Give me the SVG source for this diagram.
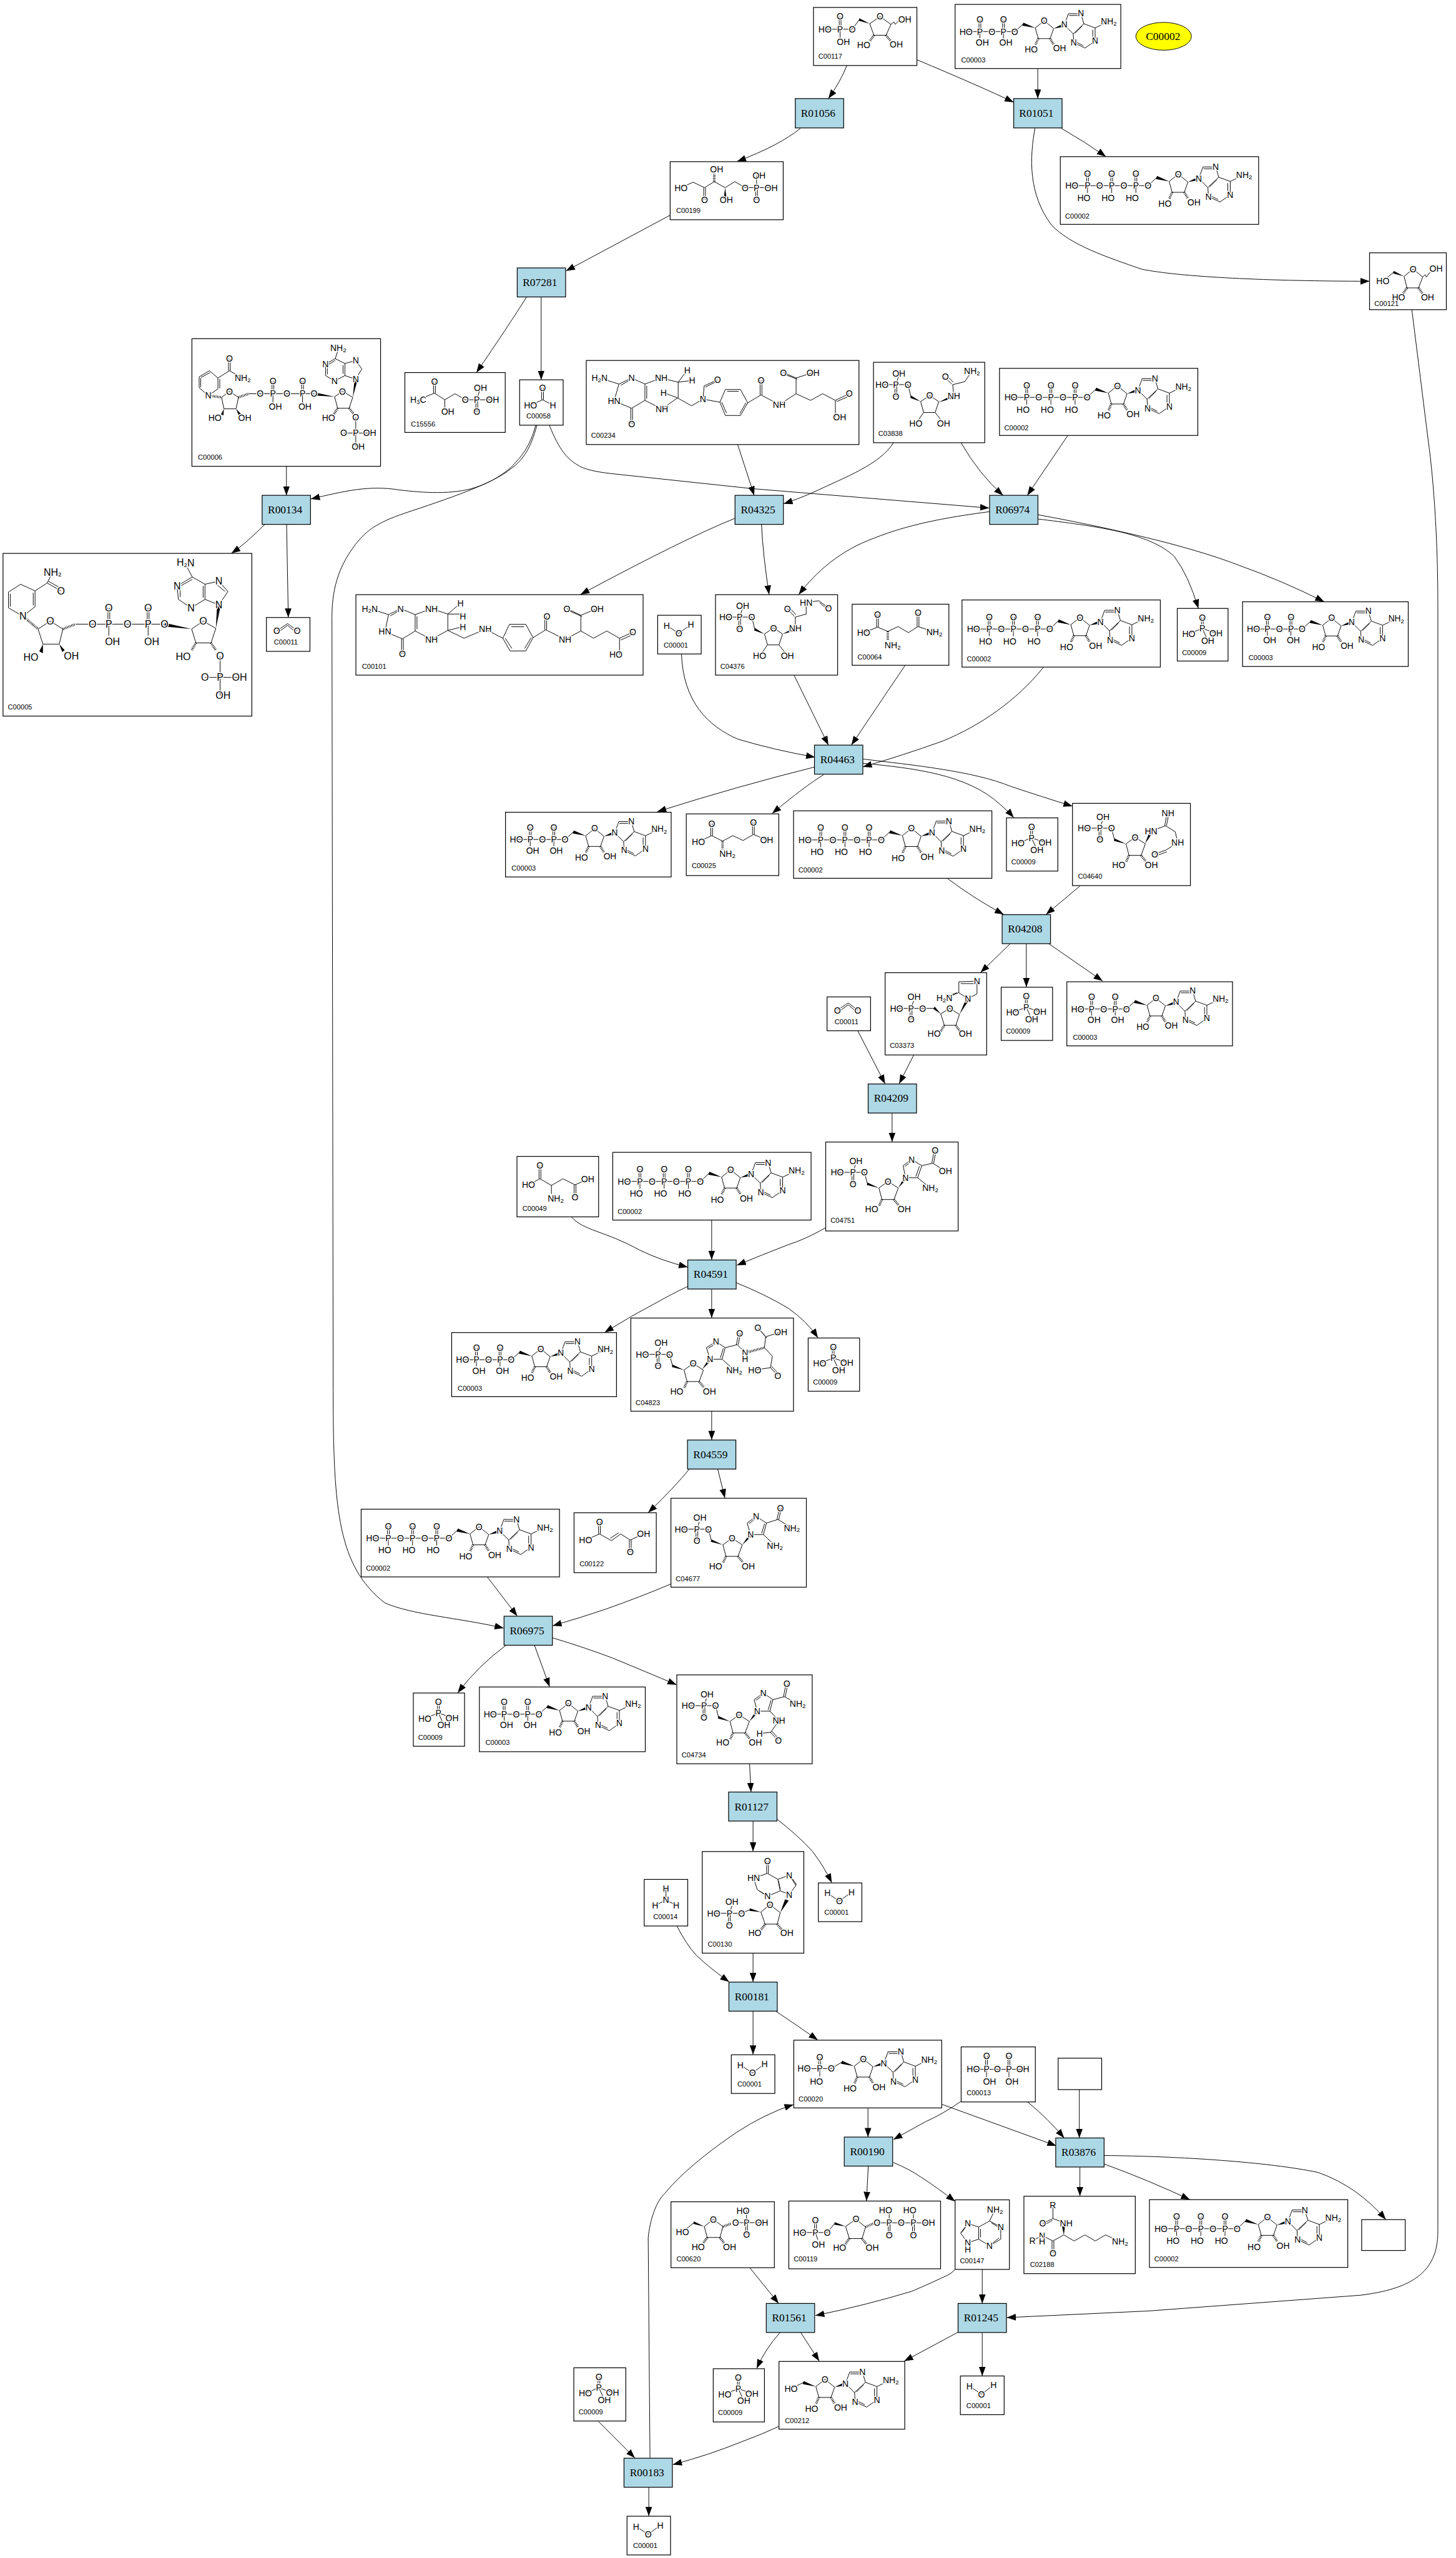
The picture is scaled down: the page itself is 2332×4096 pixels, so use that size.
<svg xmlns="http://www.w3.org/2000/svg" width="2332" height="4096" viewBox="0 0 2332 4096">
<style>
text{font-family:"Liberation Sans",Arial,sans-serif;fill:#000}
.n{fill:#fff;stroke:#000;stroke-width:1.25}
.r{fill:#add8e6;stroke:#000;stroke-width:1.25}
.rt{font-family:"Liberation Serif","Times New Roman",serif;font-size:18px;text-anchor:middle}
.l{font-size:11.5px}
.a{font-size:14.5px;text-anchor:middle;dominant-baseline:central;paint-order:stroke;stroke:#fff;stroke-width:3px;stroke-linejoin:round}
.big .a{font-size:16.5px}
.s{font-size:10px}
.b{fill:none;stroke:#000;stroke-width:1}
.w{fill:#000;stroke:none}
.h{fill:none;stroke:#000;stroke-width:4;stroke-dasharray:1 1.5}
.e{fill:none;stroke:#000;stroke-width:1;marker-end:url(#ah)}
</style>
<defs>
<marker id="ah" markerUnits="userSpaceOnUse" markerWidth="16" markerHeight="12" refX="15" refY="5.5" orient="auto"><path d="M0,0L15,5.5L0,11Z"/></marker>
<g id="ado">
<path class="b" d="M20,7L35,-5L51,8L45,25H25ZM51,8M69,2L76,-17H97M77,-14H95M97,-17L102,0L121,7V29L104,41L85,32L84,17L69,2M102,0L84,17M99,4L87,16M117,10V26M101,37L89,31M121,7L144,-4"/>
<path class="w" d="M20,7L0,-2L-2,3ZM51,8L67,0L69,5Z"/>
<path class="h" d="M25,25L20,36M45,25L51,35"/>
<text class="a" x="35" y="-5">O</text><text class="a" x="13" y="44">HO</text><text class="a" x="61" y="42">OH</text><text class="a" x="69" y="2">N</text><text class="a" x="97" y="-17">N</text><text class="a" x="121" y="29">N</text><text class="a" x="85" y="32">N</text><text class="a" x="144" y="-4">NH<tspan class="s" dy="3">2</tspan></text>
</g>
<g id="m-atp">
<path class="b" d="M19,48H145L160,34M43.5,28V48M46.5,28V48M83.5,28V48M86.5,28V48M123.5,28V48M126.5,28V48M45,48V60M85,48V60M125,48V60"/>
<text class="a" x="19" y="48">HO</text><text class="a" x="45" y="48">P</text><text class="a" x="65" y="48">O</text><text class="a" x="85" y="48">P</text><text class="a" x="105" y="48">O</text><text class="a" x="125" y="48">P</text><text class="a" x="145" y="48">O</text>
<text class="a" x="45" y="28">O</text><text class="a" x="85" y="28">O</text><text class="a" x="125" y="28">O</text><text class="a" x="39" y="68">HO</text><text class="a" x="79" y="68">HO</text><text class="a" x="119" y="68">HO</text>
<use href="#ado" x="160" y="34"/>
</g>
<g id="m-adp">
<path class="b" d="M18,45H98.5L113,32M39.5,25V45M42.5,25V45M78.5,25V45M81.5,25V45M41,45V56M80,45V56"/>
<text class="a" x="18" y="45">HO</text><text class="a" x="41" y="45">P</text><text class="a" x="61" y="45">O</text><text class="a" x="80" y="45">P</text><text class="a" x="98.5" y="45">O</text><text class="a" x="41" y="25">O</text><text class="a" x="80" y="25">O</text><text class="a" x="45" y="63">OH</text><text class="a" x="84" y="63">OH</text>
<use href="#ado" transform="translate(113,32) scale(.98)"/>
</g>
<g id="m-pi">
<path class="b" d="M40,15V33M43,15V33M41.5,33L19,42M41.5,33L64,41M41.5,33L50.5,53"/>
<text class="a" x="41.5" y="15">O</text><text class="a" x="41.5" y="33">P</text><text class="a" x="19" y="42">HO</text><text class="a" x="64" y="41">OH</text><text class="a" x="50.5" y="53">OH</text>
</g>
<g id="m-h2o">
<path class="b" d="M15,17L35,30L55,15"/>
<text class="a" x="15" y="17">H</text><text class="a" x="35" y="30">O</text><text class="a" x="55" y="15">H</text>
</g>
<g id="m-co2">
<path class="b" d="M17,22L35,10L51,22M20,24L35,13L48,24"/>
<text class="a" x="17" y="22">O</text><text class="a" x="51" y="22">O</text>
</g>
<g id="rp2">
<path class="b" d="M-26,0H19L24,19M-1.5,0V19M1.5,0V19M0,0L4,-12M43,26L58,15L75,26L68,45H48Z"/>
<path class="w" d="M43,26L24,17L23,21Z"/>
<path class="h" d="M48,45L43,56M68,45L76,55"/>
<text class="a" x="5" y="-19">OH</text><text class="a" x="-26" y="0">HO</text><text class="a" x="0" y="0">P</text><text class="a" x="0" y="19">O</text><text class="a" x="19" y="0">O</text><text class="a" x="58" y="15">O</text><text class="a" x="31" y="61">HO</text><text class="a" x="85" y="61">OH</text>
</g>
<g id="rp1">
<path class="b" d="M-23,0H20L25,20M-1.5,0V20M1.5,0V20M0,0L4,-12M41,28L56,18L71,28L65,46H46ZM46,46L36,60M65,46L76,60"/>
<path class="w" d="M41,28L25,18L24,22Z"/>
<text class="a" x="5" y="-19">OH</text><text class="a" x="-23" y="0">HO</text><text class="a" x="0" y="0">P</text><text class="a" x="0" y="20">O</text><text class="a" x="20" y="0">O</text><text class="a" x="56" y="18">O</text><text class="a" x="33" y="64">HO</text><text class="a" x="79" y="64">OH</text>
</g>
</defs>
<g transform="scale(.96844)">
<g id="connectors">
<path class="e" d="M1400.5,108.5Q1390,135 1370,163"/>
<path class="e" d="M1516.8,99Q1615,140 1676.5,169"/>
<path class="e" d="M1716.3,114V163"/>
<path class="e" d="M1755,212Q1795,235 1829,259"/>
<path class="e" d="M1711.7,212C1703,260 1700,320 1739,372C1770,405 1830,425 1888,445C1950,458 2100,465 2265,465"/>
<path class="e" d="M1324,212Q1290,240 1219,267"/>
<path class="e" d="M1108,356L936,448"/>
<path class="e" d="M871,491Q840,540 788,616"/>
<path class="e" d="M895,491V628"/>
<path class="e" d="M886,703C876,740 862,755 845,773C825,790 805,800 786,806C750,818 700,815 660,810C610,802 570,812 514,825"/>
<path class="e" d="M888,703C878,740 866,760 845,775C815,800 740,825 668,849C625,864 608,875 588,900C565,930 549,965 549,1020L551,2300C551,2500 560,2590 636,2650C680,2670 760,2675 833,2692"/>
<path class="e" d="M908.5,703C925,745 940,760 954,768C965,776 985,780 1010,783L1244.6,808L1636,840"/>
<path class="e" d="M473.7,771V819"/>
<path class="e" d="M438,867Q405,900 382.6,915"/>
<path class="e" d="M474,867L476.8,1021"/>
<path class="e" d="M1220,735L1247.3,819"/>
<path class="e" d="M1477.7,732C1455,768 1400,788 1343,815Q1320,825 1296,833"/>
<path class="e" d="M1589.3,732Q1620,785 1659,819"/>
<path class="e" d="M1766,720L1699,819"/>
<path class="e" d="M1215.6,857Q1133,890 960,983"/>
<path class="e" d="M1259.4,867Q1262,920 1272,983"/>
<path class="e" d="M1636.6,846C1560,856 1500,868 1445,890C1390,910 1350,945 1321,983"/>
<path class="e" d="M1716,858C1810,870 1900,880 1942,920Q1965,950 1982,1006"/>
<path class="e" d="M1716,851C1820,870 1960,900 2050,935Q2120,960 2190,995"/>
<path class="e" d="M1313,1116L1370,1232"/>
<path class="e" d="M1127,1081C1130,1160 1170,1200 1220,1222Q1280,1240 1348,1252"/>
<path class="e" d="M1497,1100L1408,1232"/>
<path class="e" d="M1726,1103C1680,1160 1620,1200 1560,1225Q1490,1250 1427,1268"/>
<path class="e" d="M1348,1268Q1220,1300 1087,1342"/>
<path class="e" d="M1362,1281Q1331,1300 1277,1345"/>
<path class="e" d="M1427,1262C1510,1270 1600,1280 1654,1330Q1668,1342 1676.6,1352"/>
<path class="e" d="M1427,1255C1510,1265 1610,1275 1671,1300Q1725,1318 1773.7,1333"/>
<path class="e" d="M1567,1452.5Q1610,1485 1660,1512"/>
<path class="e" d="M1786,1465L1730,1512"/>
<path class="e" d="M1671,1560L1621.7,1608"/>
<path class="e" d="M1697.4,1560V1632"/>
<path class="e" d="M1734,1560L1823.6,1622"/>
<path class="e" d="M1418.8,1704.7L1463.8,1792"/>
<path class="e" d="M1511,1744.7L1487,1792"/>
<path class="e" d="M1475.4,1840V1888"/>
<path class="e" d="M945,2012C965,2035 1000,2035 1058,2067Q1095,2085 1137.5,2095"/>
<path class="e" d="M1177,2017.5V2083"/>
<path class="e" d="M1365.6,2030Q1330,2050 1303.6,2058Q1260,2075 1218.7,2092"/>
<path class="e" d="M1137.5,2127Q1110,2140 1089,2152Q1045,2175 1000,2203"/>
<path class="e" d="M1177,2131.5V2179"/>
<path class="e" d="M1217,2120.7Q1265,2140 1303.6,2163Q1335,2185 1352.7,2212"/>
<path class="e" d="M1177,2333.5V2381"/>
<path class="e" d="M1140,2429Q1115,2460 1072,2501"/>
<path class="e" d="M1187,2429L1198.9,2477"/>
<path class="e" d="M806,2607.5L855.5,2672"/>
<path class="e" d="M1109.6,2619Q1060,2640 1003.5,2660Q960,2675 914,2688"/>
<path class="e" d="M836.6,2720.5Q790,2755 757,2799"/>
<path class="e" d="M884,2720.5L909,2789"/>
<path class="e" d="M913.7,2708Q970,2725 1013.7,2741.7Q1070,2765 1119,2785.7"/>
<path class="e" d="M1239.7,2916.5L1242,2963"/>
<path class="e" d="M1245.4,3011V3061"/>
<path class="e" d="M1284,3007Q1320,3035 1343.6,3061Q1362,3085 1375.7,3113"/>
<path class="e" d="M1245.4,3229.5V3277"/>
<path class="e" d="M1119.5,3184.5Q1135,3215 1151.6,3233Q1175,3255 1206,3277"/>
<path class="e" d="M1245.4,3325.5V3397"/>
<path class="e" d="M1283.3,3325.5Q1320,3350 1352.5,3373"/>
<path class="e" d="M1435.5,3485.5V3533.5"/>
<path class="e" d="M1589,3474.6Q1560,3495 1531,3508Q1500,3525 1477.5,3537.6"/>
<path class="e" d="M1699.8,3475.5Q1735,3505 1760,3535"/>
<path class="e" d="M1557.9,3479.4L1747,3548"/>
<path class="e" d="M1785,3455V3535"/>
<path class="e" d="M1786,3583.5V3631"/>
<path class="e" d="M1826,3578Q1900,3605 1968,3637"/>
<path class="e" d="M1826,3564C1950,3565 2100,3575 2180,3592Q2245,3615 2292,3670"/>
<path class="e" d="M1436,3581.5L1433,3639"/>
<path class="e" d="M1477.5,3575.5Q1505,3587 1523.5,3600Q1550,3617 1579.6,3640"/>
<path class="e" d="M1240,3749.5L1287.8,3808.6"/>
<path class="e" d="M1579.6,3752.4Q1572,3760 1566.8,3762Q1540,3775 1508,3788.5Q1430,3812 1348.5,3828.6"/>
<path class="e" d="M1624.5,3752.5V3808.6"/>
<path class="e" d="M2335,512L2362,728C2372,800 2378,900 2378,1000V3690C2378,3760 2330,3785 2250,3795L1900,3821L1665,3832"/>
<path class="e" d="M1290,3856.7Q1265,3885 1251.5,3916"/>
<path class="e" d="M1324.5,3857L1355,3904"/>
<path class="e" d="M1584.7,3856L1495.4,3904"/>
<path class="e" d="M1624.5,3857V3928.5"/>
<path class="e" d="M1288,4012Q1260,4025 1227.5,4037Q1170,4060 1112.8,4075"/>
<path class="e" d="M990,4004L1050,4064"/>
<path class="e" d="M1073,4112.6V4160"/>
<path class="e" d="M1075,4064L1072,3700C1075,3670 1085,3640 1100,3626C1130,3590 1175,3555 1218.6,3525.5Q1265,3495 1312.3,3479.7"/>
</g>

<g id="R01056"><rect class="r" x="1315.3" y="163" width="80" height="48.5"/><text class="rt" x="1353" y="193">R01056</text></g>
<g id="R01051"><rect class="r" x="1676.5" y="163" width="80" height="48.5"/><text class="rt" x="1714" y="193">R01051</text></g>
<g id="R07281"><rect class="r" x="855.4" y="443" width="80" height="48"/><text class="rt" x="893" y="473">R07281</text></g>
<g id="R00134"><rect class="r" x="433.5" y="819" width="80" height="48"/><text class="rt" x="471.5" y="849">R00134</text></g>
<g id="R04325"><rect class="r" x="1215.6" y="819" width="80" height="48"/><text class="rt" x="1253.6" y="849">R04325</text></g>
<g id="R06974"><rect class="r" x="1636.6" y="819" width="80" height="48"/><text class="rt" x="1674.6" y="849">R06974</text></g>
<g id="R04463"><rect class="r" x="1347" y="1232" width="80" height="48"/><text class="rt" x="1385" y="1262">R04463</text></g>
<g id="R04208"><rect class="r" x="1657.4" y="1512.3" width="80" height="48"/><text class="rt" x="1695.4" y="1542">R04208</text></g>
<g id="R04209"><rect class="r" x="1435.8" y="1792.3" width="80" height="48"/><text class="rt" x="1473.8" y="1822">R04209</text></g>
<g id="R04591"><rect class="r" x="1137.5" y="2083.3" width="80" height="48"/><text class="rt" x="1175.5" y="2113">R04591</text></g>
<g id="R04559"><rect class="r" x="1137" y="2381" width="80" height="48"/><text class="rt" x="1175" y="2411">R04559</text></g>
<g id="R06975"><rect class="r" x="833.6" y="2672.3" width="80" height="48"/><text class="rt" x="871.6" y="2702">R06975</text></g>
<g id="R01127"><rect class="r" x="1205" y="2963" width="80" height="48"/><text class="rt" x="1243" y="2993">R01127</text></g>
<g id="R00181"><rect class="r" x="1205.5" y="3277.3" width="80" height="48"/><text class="rt" x="1243.5" y="3307">R00181</text></g>
<g id="R00190"><rect class="r" x="1396.3" y="3533.5" width="80" height="48"/><text class="rt" x="1434.3" y="3563">R00190</text></g>
<g id="R03876"><rect class="r" x="1746" y="3535" width="80" height="48"/><text class="rt" x="1784" y="3565">R03876</text></g>
<g id="R01561"><rect class="r" x="1267.3" y="3808.6" width="80" height="48"/><text class="rt" x="1305.3" y="3838.6">R01561</text></g>
<g id="R01245"><rect class="r" x="1584.5" y="3808.6" width="80" height="48"/><text class="rt" x="1622.5" y="3838.6">R01245</text></g>
<g id="R00183"><rect class="r" x="1032" y="4064.5" width="80" height="48"/><text class="rt" x="1070" y="4094.5">R00183</text></g>

<g id="C00002_title"><ellipse cx="1924.5" cy="60" rx="46" ry="23" fill="#ff0" stroke="#000" stroke-width="1"/><text class="rt" x="1923.5" y="66.5">C00002</text></g>

<g id="C00117" transform="translate(1345.4,12.3)"><rect class="n" width="171" height="96"/>
<path class="b" d="M19,36H64L76,20M42.5,15V36M45.5,15V36M44,36V50M93,27L110,15L128,28L120,46H100ZM128,28L133,24L135,28L141,22"/><path class="w" d="M93,27L76,18L75,22Z"/><path class="h" d="M100,46L93,56M120,46L128,56"/>
<text class="a" x="19" y="36">HO</text><text class="a" x="44" y="36">P</text><text class="a" x="44" y="15">O</text><text class="a" x="49.5" y="57">OH</text><text class="a" x="64" y="36">O</text><text class="a" x="110" y="15">O</text><text class="a" x="151" y="20">OH</text><text class="a" x="83" y="62">HO</text><text class="a" x="137" y="61">OH</text><text class="l" x="8" y="85">C00117</text></g>

<g id="C00003" transform="translate(1579.6,7.3)"><rect class="n" width="274" height="106"/><use href="#m-adp"/><text class="l" x="10" y="96">C00003</text></g>
<g id="C00002" transform="translate(1753.6,259)"><rect class="n" width="328" height="112"/><use href="#m-atp"/><text class="l" x="8" y="102">C00002</text></g>

<g id="C00199" transform="translate(1108.3,267.3)"><rect class="n" width="187" height="96"/>
<path class="b" d="M18,43L38,34L57,43L73,33L91,43L107,33L124,43H167M55.5,43V63M58.5,43V63M143,43V23M141.5,43V63M144.5,43V63"/><path class="w" d="M91,43L88.5,62H93.5Z"/><path class="h" d="M73,33V20"/>
<text class="a" x="18" y="43">HO</text><text class="a" x="57" y="63">O</text><text class="a" x="77" y="13">OH</text><text class="a" x="93" y="63">OH</text><text class="a" x="124" y="43">O</text><text class="a" x="143" y="43">P</text><text class="a" x="147" y="23">OH</text><text class="a" x="143" y="63">O</text><text class="a" x="167" y="43">OH</text><text class="l" x="10" y="85">C00199</text></g>

<g id="C00121" transform="translate(2265,418)"><rect class="n" width="127" height="94"/>
<path class="b" d="M22,47L40,32M57,39L72,27L88,40L81,58H62ZM88,40L92,36L94,40L100,32"/><path class="w" d="M57,39L40,30L39,34Z"/><path class="h" d="M62,58L55,68M81,58L88,68"/>
<text class="a" x="22" y="47">HO</text><text class="a" x="72" y="27">O</text><text class="a" x="110" y="26">OH</text><text class="a" x="48" y="74">HO</text><text class="a" x="96" y="74">OH</text><text class="l" x="8" y="88">C00121</text></g>

<g id="C00006" transform="translate(317.4,560)"><rect class="n" width="312" height="211"/>
<path class="b" d="M60.5,33V53M63.5,33V53M62,53L84,65M62,53L43,65L29,53L12,63V81L27,94L43,83V65M14.5,65V80M46,67V82M30,56L15,64M49,97L62,87L77,97L73,116H53ZM94,91H202M132.5,70V91M135.5,70V91M181.5,70V91M184.5,70V91M134,91V106M183,91V106M236,96L249,87L266,97L260,115H241ZM271,130V178M251,156H294M253,41V61L236,70L221,61V42L237,33L253,41L271,36M253,61L271,67L281,50L271,36M250,44V58M224,44V59M237,36L225,43M237,33L242,18"/>
<path class="w" d="M236,96L204,89L203,94ZM266,97L269,67L274,68ZM53,116L48,125L52,127ZM73,116L81,124L77,126Z"/><path class="h" d="M27,94L49,97M77,97L94,91M241,115L234,126M260,115L268,125"/>
<text class="a" x="62" y="33">O</text><text class="a" x="84" y="65">NH<tspan class="s" dy="3">2</tspan></text><text class="a" x="27" y="94">N</text><text class="a" x="62" y="87">O</text><text class="a" x="38" y="131">HO</text><text class="a" x="87.5" y="131">OH</text><text class="a" x="113" y="91">O</text><text class="a" x="134" y="91">P</text><text class="a" x="134" y="70">O</text><text class="a" x="138" y="112">OH</text><text class="a" x="157" y="91">O</text><text class="a" x="183" y="91">P</text><text class="a" x="183" y="70">O</text><text class="a" x="187" y="112">OH</text><text class="a" x="202" y="91">O</text><text class="a" x="249" y="87">O</text><text class="a" x="226" y="131">HO</text><text class="a" x="271" y="130">O</text><text class="a" x="271" y="156">P</text><text class="a" x="251" y="156">O</text><text class="a" x="294" y="156">OH</text><text class="a" x="275" y="178">OH</text><text class="a" x="271" y="67">N</text><text class="a" x="271" y="36">N</text><text class="a" x="236" y="70">N</text><text class="a" x="221" y="42">N</text><text class="a" x="242" y="15">NH<tspan class="s" dy="3">2</tspan></text><text class="l" x="10" y="200">C00006</text></g>

<g id="C15556" transform="translate(669.6,616)"><rect class="n" width="166" height="99"/>
<path class="b" d="M22,45L49,34L66,45L83,35L100,45H145M47.5,15V34M50.5,15V34M66,45V62M119,45L125,25M117.5,45V65M120.5,45V65"/>
<text class="a" x="22" y="45">H<tspan class="s" dy="3">3</tspan><tspan dy="-3">C</tspan></text><text class="a" x="49" y="15">O</text><text class="a" x="71" y="65">OH</text><text class="a" x="100" y="45">O</text><text class="a" x="119" y="45">P</text><text class="a" x="125" y="25">OH</text><text class="a" x="145" y="45">OH</text><text class="a" x="119" y="65">O</text><text class="l" x="10" y="89">C15556</text></g>

<g id="C00058" transform="translate(859.4,628)"><rect class="n" width="72" height="75"/>
<path class="b" d="M36.5,13V33M39.5,13V33M38,33L18,42M38,33L55,42"/>
<text class="a" x="38" y="13">O</text><text class="a" x="18" y="42">HO</text><text class="a" x="55" y="42">H</text><text class="l" x="11" y="64">C00058</text></g>

<g id="C00234" transform="translate(969.6,596)"><rect class="n" width="451" height="139"/>
<path class="b" d="M22,29L54,39L75,29L97,39V66L75,79L46,67L54,39M100,42V63M57,41L73,32M73.5,79V105M76.5,79V105M97,39L124,29L152,36L167,16M152,36L175,33M152,36V62M97,66L125,80L151,62L128,53M151,62L174,75L193,64L221,69L230,48H255L267,70L255,91H230L221,69M233,51H252M224,69L232,87M264,70L254,88M193,64L195,42L217,32M197,44L215,35M267,70L289,57L319,73L347,55L371,66L391,55L412,66V94M287.5,57V33M290.5,57V33M347,55V29L326,20M349,31L328,23M347,29L375,20M412,66L435,55M414,68L437,58"/>
<text class="a" x="22" y="29">H<tspan class="s" dy="3">2</tspan><tspan dy="-3">N</tspan></text><text class="a" x="75" y="29">N</text><text class="a" x="46" y="67">HN</text><text class="a" x="75" y="105">O</text><text class="a" x="124" y="29">NH</text><text class="a" x="125" y="80">NH</text><text class="a" x="167" y="16">H</text><text class="a" x="175" y="33">H</text><text class="a" x="128" y="53">H</text><text class="a" x="193" y="64">N</text><text class="a" x="217" y="32">O</text><text class="a" x="289" y="33">O</text><text class="a" x="319" y="73">NH</text><text class="a" x="326" y="20">O</text><text class="a" x="375" y="20">OH</text><text class="a" x="435" y="55">O</text><text class="a" x="419" y="94">OH</text><text class="l" x="8" y="128">C00234</text></g>

<g id="C03838" transform="translate(1444.6,599)"><rect class="n" width="184" height="133"/>
<use href="#rp1" x="37" y="37"/><path class="b" d="M131,37L151,32L163,14M131,37L133,56M129.5,36L118,25M132,33L121,22"/><path class="w" d="M108,66L131,54L133,59Z"/>
<text class="a" x="133" y="56">NH</text><text class="a" x="119" y="24">O</text><text class="a" x="163" y="14">NH<tspan class="s" dy="3">2</tspan></text><text class="l" x="8" y="122">C03838</text></g>

<g id="C00002_b" transform="translate(1653,609)"><rect class="n" width="328" height="111"/><use href="#m-atp"/><text class="l" x="8" y="102">C00002</text></g>

<g id="C00005" class="big" transform="translate(5,915)"><rect class="n" width="411.5" height="269"/>
<path class="b" d="M82,31L73,49L53,62L29,51L9,64V90L33,104L53,88V62M73,49L96,62M75,46L98,59M12,67V88M50,65V86M58,125L78,112L99,125L93,150H66ZM120,117H267M173.5,90V117M176.5,90V117M238.5,90V117M241.5,90V117M175,117V136M240,117V136M312,125L331,112L352,124L344,148H319ZM359,170V235M334,205H391M334,51V76L311,90L290,76L288,54L313,39L334,51L357,46M334,76L357,85L372,63L357,46M331,54V73M293,60V72M313,43L295,53M354,52L367,63M313,39L304,22"/>
<path class="w" d="M312,125L268,115L267,121ZM352,124L354,85L360,86ZM66,150L60,162L66,165ZM93,150L102,160L98,163Z"/><path class="h" d="M33,104L58,125M99,125L120,117M319,148L312,160M344,148L352,160"/>
<text class="a" x="82" y="31">NH<tspan class="s" dy="3">2</tspan></text><text class="a" x="96" y="62">O</text><text class="a" x="33" y="104">N</text><text class="a" x="78" y="112">O</text><text class="a" x="46" y="172">HO</text><text class="a" x="113" y="170">OH</text><text class="a" x="148" y="117">O</text><text class="a" x="175" y="117">P</text><text class="a" x="175" y="90">O</text><text class="a" x="181" y="146">OH</text><text class="a" x="206" y="117">O</text><text class="a" x="240" y="117">P</text><text class="a" x="240" y="90">O</text><text class="a" x="246" y="146">OH</text><text class="a" x="267" y="117">O</text><text class="a" x="331" y="112">O</text><text class="a" x="298" y="171">HO</text><text class="a" x="359" y="170">O</text><text class="a" x="359" y="205">P</text><text class="a" x="334" y="205">O</text><text class="a" x="391" y="205">OH</text><text class="a" x="364" y="235">OH</text><text class="a" x="357" y="85">N</text><text class="a" x="357" y="46">N</text><text class="a" x="311" y="90">N</text><text class="a" x="288" y="54">N</text><text class="a" x="302" y="15">H<tspan class="s" dy="3">2</tspan><tspan dy="-3">N</tspan></text><text class="l" x="8" y="258">C00005</text></g>

<g id="C00011_a" transform="translate(440.6,1021)"><rect class="n" width="72" height="56"/><use href="#m-co2"/><text class="l" x="12.5" y="45">C00011</text></g>

<g id="C00101" transform="translate(588.6,983.3)"><rect class="n" width="475" height="133"/>
<path class="b" d="M23,23L54,33L74,23L98,33V60L77,73L48,61L54,33M101,36V57M57,35L72,26M75.5,73V98M78.5,73V98M98,33L125,23L152,32L173,14M152,32H177M152,32V59L177,53M98,60L125,74L152,59L179,72L214,57L243,72L254,49H281L293,71L281,93H255L243,72M257,53H278M247,72L258,89M290,71L279,89M293,71L314,58L346,74L372,60L393,72L415,60L436,72V99M312.5,58V36M315.5,58V36M372,60V34L349,23M374,36L351,26M372,34L399,23M436,72L458,62M438,75L460,65"/>
<text class="a" x="23" y="23">H<tspan class="s" dy="3">2</tspan><tspan dy="-3">N</tspan></text><text class="a" x="74" y="23">N</text><text class="a" x="48" y="61">HN</text><text class="a" x="77" y="98">O</text><text class="a" x="125" y="23">NH</text><text class="a" x="125" y="74">NH</text><text class="a" x="173" y="14">H</text><text class="a" x="177" y="36">H</text><text class="a" x="177" y="53">H</text><text class="a" x="214" y="57">NH</text><text class="a" x="316" y="36">O</text><text class="a" x="346" y="74">NH</text><text class="a" x="349" y="23">O</text><text class="a" x="399" y="23">OH</text><text class="a" x="458" y="62">O</text><text class="a" x="430" y="99">HO</text><text class="l" x="10" y="123">C00101</text></g>

<g id="C00001_a" transform="translate(1087.7,1017.3)"><rect class="n" width="72" height="64"/><use href="#m-h2o"/><text class="l" x="10" y="53">C00001</text></g>

<g id="C04376" transform="translate(1183.3,983.3)"><rect class="n" width="202" height="133"/>
<use href="#rp1" x="40" y="37"/><path class="b" d="M132,37V56M130.5,36L119,23M133,33L122,21M132,37L150,32V13L171,10L187,22M172,13L186,25"/><path class="w" d="M111,65L131,54L133,59Z"/>
<text class="a" x="132" y="56">NH</text><text class="a" x="119" y="23">O</text><text class="a" x="150" y="13">HN</text><text class="a" x="187" y="22">O</text><text class="l" x="8" y="123">C04376</text></g>

<g id="C00064" transform="translate(1409.3,999)"><rect class="n" width="160" height="101"/>
<path class="b" d="M40.5,17V38M43.5,17V38M42,38L19,47M42,38L59,45L76,37L93,47L109,37L136,46M107.5,14V37M110.5,14V37"/><path class="h" d="M59,45V60"/>
<text class="a" x="42" y="17">O</text><text class="a" x="19" y="47">HO</text><text class="a" x="67" y="68">NH<tspan class="s" dy="3">2</tspan></text><text class="a" x="109" y="14">O</text><text class="a" x="136" y="46">NH<tspan class="s" dy="3">2</tspan></text><text class="l" x="9" y="91">C00064</text></g>

<g id="C00002_c" transform="translate(1591,992)"><rect class="n" width="328" height="111"/><use href="#m-atp"/><text class="l" x="8" y="102">C00002</text></g>
<g id="C00009_a" transform="translate(1947,1006)"><rect class="n" width="84" height="87"/><use href="#m-pi"/><text class="l" x="8" y="77">C00009</text></g>
<g id="C00003_b" transform="translate(2055,995)"><rect class="n" width="274" height="107"/><use href="#m-adp"/><text class="l" x="10" y="96">C00003</text></g>
<g id="C00003_c" transform="translate(836,1343)"><rect class="n" width="274" height="107"/><use href="#m-adp"/><text class="l" x="10" y="96">C00003</text></g>

<g id="C00025" transform="translate(1135,1345.7)"><rect class="n" width="153" height="102"/>
<path class="b" d="M40.5,16V36M43.5,16V36M42,36L20,46M42,36L60,45L77,36L94,44L111,34L133,43M109.5,14V34M112.5,14V34"/><path class="h" d="M60,45V58"/>
<text class="a" x="42" y="16">O</text><text class="a" x="20" y="46">HO</text><text class="a" x="68" y="66">NH<tspan class="s" dy="3">2</tspan></text><text class="a" x="111" y="14">O</text><text class="a" x="133" y="43">OH</text><text class="l" x="9" y="90">C00025</text></g>

<g id="C00002_d" transform="translate(1312.4,1340.7)"><rect class="n" width="328" height="111.5"/><use href="#m-atp"/><text class="l" x="8" y="102">C00002</text></g>
<g id="C00009_b" transform="translate(1664.5,1352.3)"><rect class="n" width="85" height="88"/><use href="#m-pi"/><text class="l" x="8" y="77">C00009</text></g>

<g id="C04640" transform="translate(1773.7,1328.3)"><rect class="n" width="195" height="136"/>
<use href="#rp2" x="45.5" y="41"/><path class="b" d="M130,46L154,37L170,47L174,65L155,77L136,84M156,80L138,87M152.5,37L156.5,16M155.5,37L159.5,16"/><path class="w" d="M120,67L128,45L133,48Z"/>
<text class="a" x="130" y="46">HN</text><text class="a" x="158" y="16">NH</text><text class="a" x="174" y="65">NH</text><text class="a" x="136" y="84">O</text><text class="l" x="9" y="125">C04640</text></g>

<g id="C03373" transform="translate(1463.8,1608.3)"><rect class="n" width="168" height="136"/>
<path class="b" d="M19,59H82M41.5,59V77M44.5,59V77M43,59L47,47M92,68L107,59L123,69L117,87H98ZM137,43L122,33V15L152,14V35L137,43M125,18H149M122,33L100,42M119,33L102,39"/><path class="w" d="M92,68L82,56L80,60ZM123,69L134,43L139,45Z"/><path class="h" d="M98,87L92,97M117,87L124,97"/>
<text class="a" x="48" y="40">OH</text><text class="a" x="19" y="59">HO</text><text class="a" x="43" y="59">P</text><text class="a" x="43" y="77">O</text><text class="a" x="62" y="59">O</text><text class="a" x="107" y="59">O</text><text class="a" x="81" y="101">HO</text><text class="a" x="133" y="101">OH</text><text class="a" x="137" y="43">N</text><text class="a" x="98" y="42">H<tspan class="s" dy="3">2</tspan><tspan dy="-3">N</tspan></text><text class="a" x="152" y="14">N</text><text class="l" x="8" y="124">C03373</text></g>

<g id="C00009_c" transform="translate(1655.8,1632.3)"><rect class="n" width="85" height="88"/><use href="#m-pi"/><text class="l" x="8" y="77">C00009</text></g>
<g id="C00003_d" transform="translate(1764.4,1623.3)"><rect class="n" width="274" height="106"/><use href="#m-adp"/><text class="l" x="10" y="96">C00003</text></g>
<g id="C00011_b" transform="translate(1367.8,1648.3)"><rect class="n" width="72" height="56"/><use href="#m-co2"/><text class="l" x="12.5" y="45">C00011</text></g>

<g id="C00049" transform="translate(855,1912)"><rect class="n" width="135" height="100"/>
<path class="b" d="M19,47L38,37L57,48L76,37L96,47L117,38M36.5,15V37M39.5,15V37M94.5,47V67M97.5,47V67M57,48V62"/>
<text class="a" x="19" y="47">HO</text><text class="a" x="38" y="15">O</text><text class="a" x="64" y="70">NH<tspan class="s" dy="3">2</tspan></text><text class="a" x="96" y="67">O</text><text class="a" x="117" y="38">OH</text><text class="l" x="9" y="90">C00049</text></g>

<g id="C00002_e" transform="translate(1013.4,1905.3)"><rect class="n" width="328" height="112"/><use href="#m-atp"/><text class="l" x="8" y="102">C00002</text></g>

<g id="C04751" transform="translate(1365.6,1888.3)"><rect class="n" width="219" height="147"/>
<use href="#rp2" x="45" y="50"/><path class="b" d="M132,59H152L159,39L142,29L128,39L132,59M149,57L155,40M131,40L141,33M159,39L177,35L198,48M175.5,35L179.5,14M178.5,35L182.5,14M152,59L173,76"/><path class="w" d="M120,76L130,58L134,61Z"/>
<text class="a" x="132" y="59">N</text><text class="a" x="142" y="29">N</text><text class="a" x="181" y="14">O</text><text class="a" x="198" y="48">OH</text><text class="a" x="173" y="76">NH<tspan class="s" dy="3">2</tspan></text><text class="l" x="8" y="134">C04751</text></g>

<g id="C00003_e" transform="translate(747,2203.3)"><rect class="n" width="272.6" height="106"/><use href="#m-adp"/><text class="l" x="10" y="96">C00003</text></g>

<g id="C04823" transform="translate(1043.3,2179.3)"><rect class="n" width="269" height="154"/>
<use href="#rp2" x="45" y="60"/><path class="b" d="M131,68H151L156,49L141,39L125,49L131,68M148,66L153,50M128,50L140,43M156,49L176,44L189,57M174.5,44L178.5,25M177.5,44L181.5,25M151,68L171,86M221,49L223,31L210,16M225,33L212,18M223,31L248,23M221,49L234,63L231,82L205,86M231,82L243,95M233,80L245,93"/><path class="w" d="M118,85L129,67L133,70Z"/><path class="h" d="M195,56L221,49"/>
<text class="a" x="131" y="68">N</text><text class="a" x="141" y="39">N</text><text class="a" x="171" y="86">NH<tspan class="s" dy="3">2</tspan></text><text class="a" x="180" y="25">O</text><text class="a" x="189" y="57">N</text><text class="a" x="189" y="68">H</text><text class="a" x="210" y="16">O</text><text class="a" x="248" y="23">OH</text><text class="a" x="205" y="86">HO</text><text class="a" x="243" y="95">O</text><text class="l" x="8" y="144">C04823</text></g>

<g id="C00009_d" transform="translate(1336.6,2212.3)"><rect class="n" width="85" height="88"/><use href="#m-pi"/><text class="l" x="8" y="77">C00009</text></g>
<g id="C00002_f" transform="translate(597.3,2495.3)"><rect class="n" width="328" height="112"/><use href="#m-atp"/><text class="l" x="8" y="102">C00002</text></g>

<g id="C00122" transform="translate(949.4,2501.3)"><rect class="n" width="136" height="99"/>
<path class="b" d="M40.5,15V35M43.5,15V35M42,35L19,45M42,35L62,46L77,35L93,45L115,35M60,42L74,33M91.5,45V65M94.5,45V65"/>
<text class="a" x="42" y="15">O</text><text class="a" x="19" y="45">HO</text><text class="a" x="115" y="35">OH</text><text class="a" x="93" y="65">O</text><text class="l" x="9" y="88">C00122</text></g>

<g id="C04677" transform="translate(1109.6,2477.3)"><rect class="n" width="224" height="147"/>
<use href="#rp2" x="43" y="51"/><path class="b" d="M132,60H153L158,41L141,30L126,41L132,60M150,58L155,42M129,42L140,34M158,41L177,35L200,49M175.5,35L179.5,16M178.5,35L182.5,16M153,60L172,78"/><path class="w" d="M118,77L130,59L134,62Z"/>
<text class="a" x="132" y="60">N</text><text class="a" x="141" y="30">N</text><text class="a" x="181" y="16">O</text><text class="a" x="200" y="49">NH<tspan class="s" dy="3">2</tspan></text><text class="a" x="172" y="78">NH<tspan class="s" dy="3">2</tspan></text><text class="l" x="8" y="137">C04677</text></g>

<g id="C00009_e" transform="translate(683.6,2799.3)"><rect class="n" width="84.7" height="88"/><use href="#m-pi"/><text class="l" x="8" y="77">C00009</text></g>
<g id="C00003_f" transform="translate(792.8,2789.3)"><rect class="n" width="274.4" height="107"/><use href="#m-adp"/><text class="l" x="10" y="96">C00003</text></g>

<g id="C04734" transform="translate(1119.3,2769.3)"><rect class="n" width="224" height="147"/>
<use href="#rp2" x="45" y="51"/><path class="b" d="M133,60H154L159,41L143,30L128,41L133,60M151,58L156,42M131,42L142,34M159,41L178,36L200,48M176.5,36L180.5,15M179.5,36L183.5,15M154,60L169,76L155,95L137,97M155,95L168,109M157,93L170,107"/><path class="w" d="M120,77L131,59L135,62Z"/>
<text class="a" x="133" y="60">N</text><text class="a" x="143" y="30">N</text><text class="a" x="182" y="15">O</text><text class="a" x="200" y="48">NH<tspan class="s" dy="3">2</tspan></text><text class="a" x="169" y="76">NH</text><text class="a" x="137" y="97">H</text><text class="a" x="168" y="109">O</text><text class="l" x="8" y="136">C04734</text></g>

<g id="C00130" transform="translate(1161.4,3061.4)"><rect class="n" width="168" height="168"/>
<path class="b" d="M106.5,16V36M109.5,16V36M108,36L85,44L91,63L108,74L129,65L125,46L108,36M125,46L144,39L155,56L144,71L129,65M129,62L126,48M147,42L156,55M94,65L106,72M19,102H65L79,96M43.5,102V122M46.5,102V122M45,102L49,90M97,100L112,88L129,101L124,120H104Z"/><path class="w" d="M97,100L79,94L78,98ZM129,101L137,79L143,81Z"/><path class="h" d="M104,120L97,130M124,120L132,130"/>
<text class="a" x="108" y="16">O</text><text class="a" x="85" y="44">HN</text><text class="a" x="108" y="74">N</text><text class="a" x="144" y="39">N</text><text class="a" x="144" y="71">N</text><text class="a" x="65" y="102">O</text><text class="a" x="45" y="102">P</text><text class="a" x="19" y="102">HO</text><text class="a" x="49" y="83">OH</text><text class="a" x="45" y="122">O</text><text class="a" x="112" y="88">O</text><text class="a" x="87" y="134">HO</text><text class="a" x="140" y="134">OH</text><text class="l" x="9" y="157">C00130</text></g>

<g id="C00001_b" transform="translate(1353.4,3113.3)"><rect class="n" width="72" height="64"/><use href="#m-h2o"/><text class="l" x="10" y="53">C00001</text></g>

<g id="C00014" transform="translate(1065.4,3107.5)"><rect class="n" width="72" height="77"/>
<path class="b" d="M36,15V34L18,43M36,34L53,43"/>
<text class="a" x="36" y="15">H</text><text class="a" x="36" y="34">N</text><text class="a" x="18" y="43">H</text><text class="a" x="53" y="43">H</text><text class="l" x="15" y="66">C00014</text></g>

<g id="C00001_c" transform="translate(1209.5,3397.4)"><rect class="n" width="72" height="64"/><use href="#m-h2o"/><text class="l" x="10" y="53">C00001</text></g>

<g id="C00020" transform="translate(1312.8,3373.3)"><rect class="n" width="244.6" height="112"/>
<path class="b" d="M17,47H62L80,36M41.5,28V47M44.5,28V47M43,47V60"/>
<text class="a" x="17" y="47">HO</text><text class="a" x="43" y="47">P</text><text class="a" x="62" y="47">O</text><text class="a" x="43" y="28">O</text><text class="a" x="37.5" y="68">HO</text><use href="#ado" x="80" y="36"/><text class="l" x="8" y="101">C00020</text></g>

<g id="C00013" transform="translate(1589.6,3384.4)"><rect class="n" width="122.7" height="91"/>
<path class="b" d="M20,37H102M40.5,15V37M43.5,15V37M77.5,15V37M80.5,15V37M42,37V50M79,37V50"/>
<text class="a" x="20" y="37">HO</text><text class="a" x="42" y="37">P</text><text class="a" x="60" y="37">O</text><text class="a" x="79" y="37">P</text><text class="a" x="102" y="37">OH</text><text class="a" x="42" y="15">O</text><text class="a" x="79" y="15">O</text><text class="a" x="47" y="57">OH</text><text class="a" x="84" y="57">OH</text><text class="l" x="9" y="80">C00013</text></g>

<g id="empty1"><rect class="n" x="1750" y="3403" width="72" height="52"/></g>
<g id="empty2"><rect class="n" x="2252" y="3670" width="72" height="51"/></g>

<g id="C00620" transform="translate(1109.7,3640.5)"><rect class="n" width="171" height="109"/>
<path class="b" d="M19,50L38,34.5M55,41L70,29L86,41L81,59H60ZM107,34.5H150M125,34.5V14.5M123.5,34.5V54M126.5,34.5V54"/><path class="w" d="M55,41L38,32.5L37,36.5Z"/><path class="h" d="M60,59L53,69M81,59L88,69M86,41L100,36"/>
<text class="a" x="19" y="50">HO</text><text class="a" x="70" y="29">O</text><text class="a" x="45" y="75">HO</text><text class="a" x="97" y="75">OH</text><text class="a" x="107" y="34.5">O</text><text class="a" x="125" y="34.5">P</text><text class="a" x="119" y="14.5">HO</text><text class="a" x="125" y="54">O</text><text class="a" x="150" y="34.5">OH</text><text class="l" x="9" y="98">C00620</text></g>

<g id="C00119" transform="translate(1304.6,3639.3)"><rect class="n" width="251" height="112"/>
<path class="b" d="M18,52H63.5L76,37M42.5,32V52M45.5,32V52M44,52L48,64M94,42L111,30L127,43L121,62H100ZM146,36H231M166,36V20M206,36V20M164.5,36V56M167.5,36V56M204.5,36V56M207.5,36V56"/><path class="w" d="M94,42L76,35L75,39Z"/><path class="h" d="M100,62L93,72M121,62L129,72M127,43L140,37"/>
<text class="a" x="18" y="52">HO</text><text class="a" x="44" y="52">P</text><text class="a" x="44" y="32">O</text><text class="a" x="49" y="72">OH</text><text class="a" x="63.5" y="52">O</text><text class="a" x="111" y="30">O</text><text class="a" x="84" y="77">HO</text><text class="a" x="138" y="77">OH</text><text class="a" x="146" y="36">O</text><text class="a" x="166" y="36">P</text><text class="a" x="160" y="15">HO</text><text class="a" x="166" y="56">O</text><text class="a" x="186" y="36">O</text><text class="a" x="206" y="36">P</text><text class="a" x="200" y="15">HO</text><text class="a" x="206" y="56">O</text><text class="a" x="231" y="36">OH</text><text class="l" x="8" y="100">C00119</text></g>

<g id="C00147" transform="translate(1579.6,3637.3)"><rect class="n" width="89.8" height="115"/>
<path class="b" d="M66,16L57,35L75.5,45V65L57,76L39,65V45L57,35M39,45L21,39L9,55L21,71L39,65M42,48V62M60,38L73,46M73,63L60,73M19,43L11,54"/>
<text class="a" x="66" y="16">NH<tspan class="s" dy="3">2</tspan></text><text class="a" x="75.5" y="45">N</text><text class="a" x="57" y="76">N</text><text class="a" x="21" y="39">N</text><text class="a" x="21" y="71">N</text><text class="a" x="21" y="82">H</text><text class="l" x="8" y="105">C00147</text></g>

<g id="C02188" transform="translate(1693.4,3631.3)"><rect class="n" width="184.2" height="128"/>
<path class="b" d="M48,15V37L31,45M47,40L33,48M48,37L70,45M66,64L48,74L30,65L14,74M46.5,74V94M49.5,74V94M66,64L83,74L101,64L118,74L135,64L159,75"/><path class="w" d="M66,64L63,50H68Z"/>
<text class="a" x="48" y="15">R</text><text class="a" x="31" y="45">O</text><text class="a" x="70" y="45">NH</text><text class="a" x="48" y="94">O</text><text class="a" x="30" y="65">N</text><text class="a" x="30" y="75">H</text><text class="a" x="14" y="74">R</text><text class="a" x="159" y="75">NH<tspan class="s" dy="3">2</tspan></text><text class="l" x="10" y="117">C02188</text></g>

<g id="C00002_g" transform="translate(1901,3637)"><rect class="n" width="328" height="112"/><use href="#m-atp"/><text class="l" x="8" y="102">C00002</text></g>
<g id="C00009_f" transform="translate(1179.6,3916.5)"><rect class="n" width="84.7" height="88"/><use href="#m-pi"/><text class="l" x="8" y="77">C00009</text></g>

<g id="C00212" transform="translate(1288.3,3904.5)"><rect class="n" width="208" height="112"/>
<path class="b" d="M20,45L41,34.5"/><text class="a" x="20" y="45">HO</text><use href="#ado" x="41" y="34.5"/><text class="l" x="10" y="101.5">C00212</text></g>

<g id="C00001_d" transform="translate(1588.3,3928.5)"><rect class="n" width="72.4" height="64"/><use href="#m-h2o"/><text class="l" x="10" y="53">C00001</text></g>
<g id="C00009_g" transform="translate(949,3915)"><rect class="n" width="86" height="88"/><use href="#m-pi"/><text class="l" x="8" y="77">C00009</text></g>
<g id="C00001_e" transform="translate(1037,4160.4)"><rect class="n" width="72" height="64"/><use href="#m-h2o"/><text class="l" x="10" y="53">C00001</text></g>
</g>
</svg>
